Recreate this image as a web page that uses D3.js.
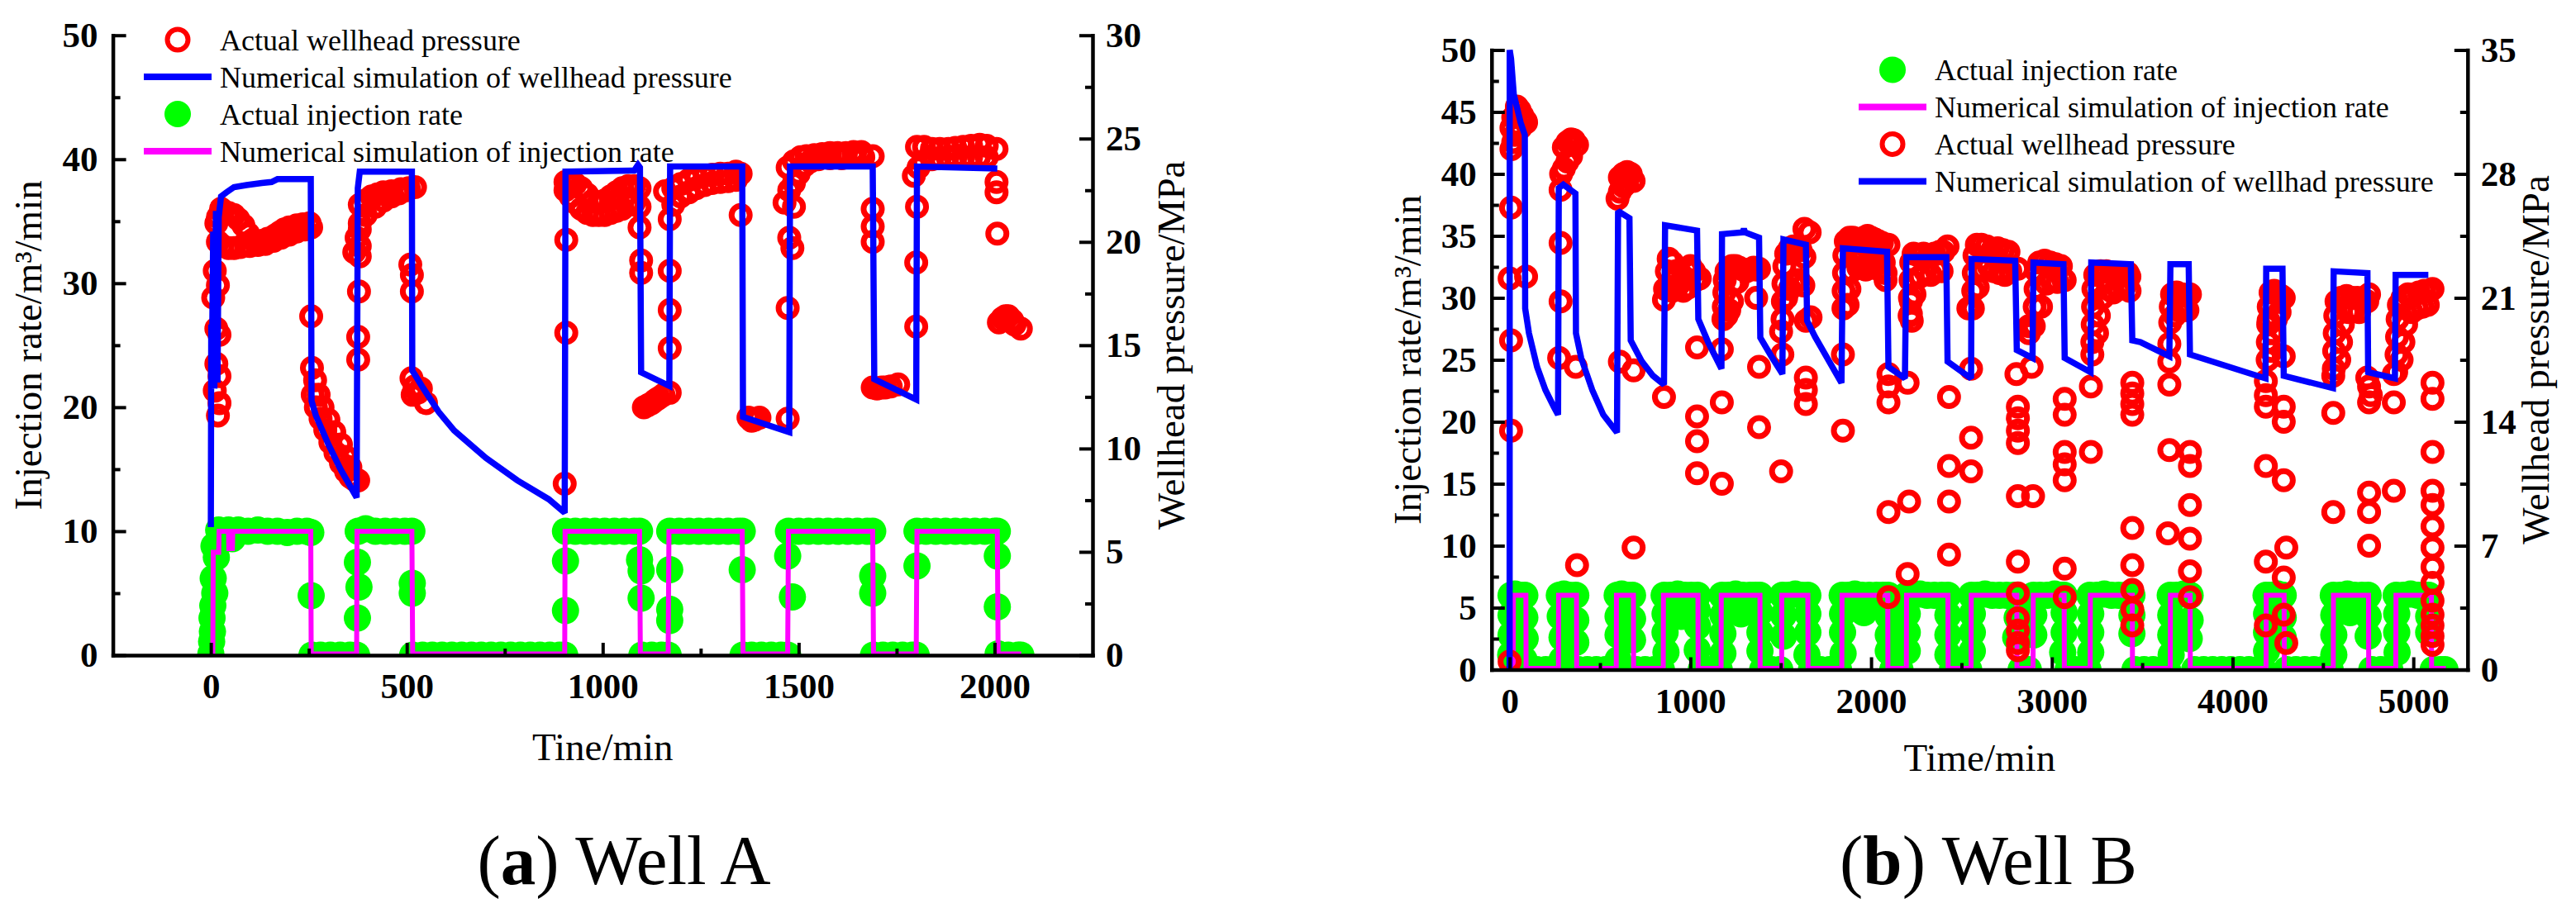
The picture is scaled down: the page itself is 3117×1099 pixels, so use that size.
<!DOCTYPE html>
<html>
<head>
<meta charset="utf-8">
<script src="https://cdn.jsdelivr.net/npm/d3@7"></script>
<style>
  body { margin: 0; background: #fff; }
  svg { display: block; }
  svg text { font-family: "Liberation Serif", "Times New Roman", "DejaVu Serif", serif; }
</style>
</head>
<body>
<div id="chart"></div>
<script>
// ---------- Well A ----------
const xTicksA = [0, 500, 1000, 1500, 2000];
const xMinorA = [250, 750, 1250, 1750];
const rateTicksA = [0, 10, 20, 30, 40, 50];
const rateMinorA = [5, 15, 25, 35, 45];
const pressTicksA = [0, 5, 10, 15, 20, 25, 30];
const pressMinorA = [2.5, 7.5, 12.5, 17.5, 22.5, 27.5];

// numerical simulation of wellhead pressure [min, MPa]
const simPressureA = [
  [0,6.2],[1,16.0],[3,14.5],[6,20.5],[9,12.9],[13,21.5],[17,13.2],[20,21.2],[26,22.2],[40,22.4],[59,22.65],[91,22.75],[130,22.85],[155,22.9],[170,23.04],[255,23.04],
  [257,12.3],[268,11.6],[300,10.2],[332,8.96],[372,7.63],
  [375,22.6],[380,23.4],[513,23.4],
  [514,13.78],[541,12.95],[581,11.78],[621,10.87],[702,9.54],[782,8.46],[862,7.55],[903,6.89],
  [905,23.4],[1080,23.45],[1090,23.73],[1095,23.6],
  [1098,13.69],[1170,13.03],
  [1172,23.65],[1356,23.65],
  [1358,11.53],[1476,10.79],
  [1478,23.65],[1689,23.65],
  [1693,13.36],[1800,12.37],
  [1802,23.65],[2007,23.55]
];

// numerical simulation of injection rate [min, m3/min]
const simRateA = [
  [0,0.1],[5,0.1],[6,8.3],[20,8.3],[21,10],[45,10],[46,8.6],[55,8.6],[56,10],[255,10],[256,0.1],[372,0.1],[373,10],[513,10],[515,0.1],
  [903,0.1],[904,10],[1094,10],[1096,0.1],[1167,0.1],[1169,10],[1356,10],[1358,0.1],[1472,0.1],[1474,10],[1689,10],[1691,0.1],
  [1800,0.1],[1802,10],[2007,10],[2009,0.1],[2068,0.1]
];

// actual injection rate [min, m3/min]
const actualRateA = [
  [0,0.1],[2,1.1],[4,1.9],[3,3.0],[5,4.0],[10,5.0],[6,6.2],[14,7.9],[8,8.8],
  [20,10.1],[30,9.4],[45,10.1],[55,9.4],[70,10.1],[95,10],[120,10.1],[145,10],[170,10],[195,9.9],[220,10],[245,10],[255,9.9],
  [256,4.8],[258,0],[280,0],[305,0],[330,0],[355,0],[372,0],
  [374,7.5],[378,5.5],[374,3.0],
  [376,10],[395,10.2],[420,10],[445,10],[470,10],[495,10],[513,10],
  [514,5.8],[514,5.0],[515,0],[540,0],[565,0],[590,0],[615,0],[640,0],[665,0],[690,0],[715,0],[740,0],[765,0],[790,0],[815,0],[840,0],[865,0],[890,0],[903,0],
  [905,7.6],[905,3.6],
  [905,10],[930,10],[955,10],[980,10],[1005,10],[1030,10],[1055,10],[1080,10],[1094,10],
  [1094,7.7],[1098,6.8],[1098,4.6],[1100,0],[1125,0],[1150,0],[1167,0],
  [1171,6.9],[1171,3.7],[1171,2.8],
  [1171,10],[1195,10],[1220,10],[1245,10],[1270,10],[1295,10],[1320,10],[1345,10],[1356,10],
  [1356,6.9],[1358,0],[1380,0],[1405,0],[1430,0],[1455,0],[1472,0],
  [1472,8.0],[1484,4.7],
  [1474,10],[1500,10],[1525,10],[1550,10],[1575,10],[1600,10],[1625,10],[1650,10],[1675,10],[1689,10],
  [1689,6.4],[1689,5.0],[1691,0],[1715,0],[1740,0],[1765,0],[1790,0],[1800,0],
  [1802,7.2],
  [1802,10],[1825,10],[1850,10],[1875,10],[1900,10],[1925,10],[1950,10],[1975,10],[2000,10],[2007,10],
  [2007,8.0],[2007,3.9],[2009,0.1],[2035,0],[2060,0],[2067,0]
];

// actual wellhead pressure [min, MPa]
const actualPressureA = [
  [18,17.9],[6,17.3],[14,15.8],[22,15.5],[14,14.1],[22,13.5],[22,12.2],[18,11.6],[14,20.9],[26,21.6],[10,18.6],[10,12.8],
  [18,21.2],[30,21.4],[45,21.4],[59,21.3],[70,21.1],[83,20.8],[95,20.4],[107,20.1],[120,20.0],[131,20.05],[145,20.15],[163,20.3],[175,20.45],[187,20.6],[200,20.7],[219,20.8],[235,20.85],[252,20.9],
  [18,20.0],[30,19.8],[45,19.7],[59,19.7],[75,19.75],[99,19.8],[120,19.85],[139,19.9],[160,20.05],[179,20.2],[200,20.35],[219,20.5],[240,20.6],[256,20.7],
  [256,16.4],
  [258,13.9],[266,13.3],[275,12.6],[285,12.0],[300,11.4],[315,10.8],[332,10.2],[345,9.6],[356,9.1],
  [260,12.6],[268,12.0],[280,11.45],[292,10.9],[305,10.3],[318,9.8],[332,9.3],[345,8.9],[356,8.63],[366,8.5],
  [376,8.46],
  [376,14.3],[376,15.4],[378,17.6],[380,19.3],[380,19.8],[380,20.6],
  [380,21.8],[395,22.0],[410,22.2],[425,22.3],[440,22.4],[461,22.45],[485,22.55],[505,22.6],
  [366,19.5],[372,20.2],[380,20.9],[395,21.3],[420,21.7],[440,22.0],[461,22.2],[480,22.35],[500,22.5],
  [521,22.65],
  [509,18.9],[513,18.4],[513,17.6],
  [512,13.4],[520,13.0],[528,12.7],[536,12.9],[515,12.6],[549,12.2],
  [907,20.1],[907,15.6],[903,8.3],
  [905,22.9],[918,22.85],[930,22.8],[945,22.6],[960,22.3],[975,22.0],[990,21.9],[1005,22.0],[1020,22.2],[1035,22.4],[1050,22.6],[1065,22.7],[1080,22.7],
  [905,22.5],[918,22.2],[930,21.9],[945,21.6],[960,21.4],[975,21.3],[990,21.3],[1005,21.3],[1020,21.4],[1035,21.5],[1050,21.6],[1065,21.8],[1080,21.9],
  [1094,22.6],[1094,21.7],[1094,20.7],[1098,19.1],[1098,18.5],
  [1105,12.0],[1115,12.1],[1125,12.2],[1135,12.35],[1143,12.45],[1155,12.6],[1171,12.7],
  [1171,21.1],[1171,18.6],[1171,16.7],[1171,14.85],
  [1159,22.45],[1180,22.6],[1199,22.8],[1220,23.0],[1239,23.1],[1260,23.2],[1280,23.25],[1300,23.3],[1320,23.3],[1340,23.4],
  [1180,21.8],[1199,22.2],[1220,22.4],[1239,22.6],[1260,22.75],[1279,22.85],[1300,22.9],[1320,22.94],[1340,23.0],
  [1352,23.3],[1352,21.3],
  [1372,11.5],[1380,11.35],[1388,11.4],[1400,11.5],[1472,11.45],
  [1472,16.8],[1484,19.7],[1476,20.2],[1488,21.7],
  [1472,23.6],[1488,23.9],[1505,24.1],[1520,24.15],[1540,24.2],[1560,24.25],[1580,24.3],[1600,24.3],[1620,24.3],[1640,24.35],[1660,24.35],
  [1464,21.9],[1476,22.5],[1488,22.85],[1500,23.3],[1515,23.7],[1530,23.9],[1550,24.0],[1580,24.05],[1610,24.05],[1640,24.1],[1665,24.1],
  [1689,24.15],
  [1689,21.6],[1689,20.75],[1689,20.0],
  [1689,12.95],[1700,12.9],[1712,12.95],[1721,12.95],[1735,13.0],[1754,13.1],
  [1802,21.7],[1800,19.0],[1800,15.9],
  [1802,24.6],[1820,24.6],[1840,24.5],[1860,24.5],[1882,24.5],[1900,24.55],[1920,24.6],[1940,24.65],[1962,24.7],[1980,24.65],
  [1794,23.2],[1806,23.6],[1818,23.9],[1840,24.0],[1860,24.05],[1880,24.1],[1900,24.1],[1920,24.1],[1940,24.1],[1960,24.1],[1980,24.1],
  [2005,24.5],
  [2005,22.9],[2005,22.4],[2007,20.4],
  [2011,16.1],[2020,16.3],[2028,16.4],[2035,16.4],[2045,16.2],[2051,16.0],[2067,15.8]
];

const legendA = ["Actual wellhead pressure", "Numerical simulation of wellhead pressure", "Actual injection rate", "Numerical simulation of injection rate"];

// ---------- Well B ----------
const xTicksB = [0, 1000, 2000, 3000, 4000, 5000];
const xMinorB = [500, 1500, 2500, 3500, 4500];
const rateTicksB = [0, 5, 10, 15, 20, 25, 30, 35, 40, 45, 50];
const rateMinorB = [2.5, 7.5, 12.5, 17.5, 22.5, 27.5, 32.5, 37.5, 42.5, 47.5];
const pressTicksB = [0, 7, 14, 21, 28, 35];
const pressMinorB = [3.5, 10.5, 17.5, 24.5, 31.5];

const simPressureB = [
  [0,0],[0.5,35],[8,34.5],[23,32.5],[61,30.9],[84,30.2],[86,20.4],[107,19.0],[152,17.1],[198,15.8],[244,14.85],[268,14.4],
  [272,27.2],[297,27.4],[364,26.9],[367,19.0],[396,17.6],[457,15.8],[518,14.4],[594,13.4],
  [600,25.9],[663,25.5],[670,18.6],[732,17.4],[793,16.6],[854,16.1],
  [860,25.1],[1037,24.8],[1044,19.8],[1098,18.5],[1172,17.0],
  [1175,24.6],[1290,24.7],[1296,24.9],[1302,24.7],[1380,24.4],[1387,18.75],[1448,17.7],[1509,16.7],
  [1515,24.3],[1639,24.0],[1646,19.7],[1690,18.8],[1836,16.2],
  [1844,23.8],[2088,23.6],[2096,17.1],[2187,16.45],
  [2195,23.3],[2416,23.3],[2423,17.4],[2553,16.45],
  [2556,23.2],[2797,23.1],[2806,18.05],[2893,17.6],
  [2898,23.0],[3064,22.9],[3071,17.6],[3214,16.8],
  [3218,23.0],[3437,22.9],[3445,18.6],[3490,18.5],[3650,17.7],
  [3656,22.9],[3757,22.9],[3764,17.8],[4182,16.45],
  [4186,22.65],[4276,22.65],[4283,16.6],[4555,15.9],
  [4559,22.5],[4746,22.4],[4750,16.8],[4898,16.45],
  [4902,22.3],[5083,22.3]
];

const simRateB = [
  [0,0.1],[20,0.1],[21,6],[90,6],[91,0.1],[270,0.1],[271,6],[370,6],[371,0.1],[590,0.1],[591,6],[685,6],[686,0.1],
  [850,0.1],[851,6],[1042,6],[1043,0.1],[1170,0.1],[1171,6],[1385,6],[1386,0.1],[1505,0.1],[1506,6],[1650,6],[1651,0.1],
  [1838,0.1],[1839,6],[2092,6],[2093,0.1],[2195,0.1],[2196,6],[2425,6],[2426,0.1],[2553,0.1],[2554,6],[2806,6],[2807,0.1],
  [2896,0.1],[2897,6],[3068,6],[3069,0.1],[3212,0.1],[3213,6],[3445,6],[3446,0.1],[3655,0.1],[3656,6],[3765,6],[3766,0.1],
  [4185,0.1],[4186,6],[4285,6],[4286,0.1],[4557,0.1],[4558,6],[4752,6],[4753,0.1],[4903,0.1],[4904,6],[5100,6],[5101,0.1],[5180,0.1]
];

const actualRateB = [
  [8,6.0],[30,6.1],[55,6.0],[84,6.0],[8,4.4],[8,2.8],[6,1.2],[84,4.2],[86,2.5],[80,0.8],[45,3.5],
  [100,0],[150,0],[200,0],[250,0],
  [275,6],[300,6.1],[330,6],[366,6],[280,4.3],[290,2.6],[366,4.0],[366,2.2],[290,0.8],
  [380,0],[430,0],[480,0],[530,0],[580,0],
  [595,6],[620,6.1],[650,6],[680,6],[600,4.3],[600,2.8],[680,4.1],[680,2.4],[600,0.8],
  [700,0],[750,0],[800,0],[840,0],
  [855,6],[890,6],[930,6.1],[970,6],[1005,6],[1040,6],[860,4.5],[860,3.0],[865,1.4],[1038,4.8],[1040,3.5],[1038,1.6],[950,4.3],
  [1060,0],[1110,0],[1160,0],
  [1175,6],[1210,6],[1250,6.1],[1290,6],[1330,6],[1360,6],[1385,6],[1180,4.4],[1180,2.9],[1180,1.3],[1385,4.6],[1385,3.0],[1385,1.5],[1280,4.5],
  [1400,0],[1450,0],[1495,0],
  [1510,6],[1545,6],[1580,6.1],[1615,6],[1650,6],[1515,4.4],[1515,2.7],[1650,4.5],[1650,3.0],[1645,1.2],
  [1670,0],[1720,0],[1770,0],[1820,0],
  [1840,6],[1875,6],[1910,6.1],[1950,6],[1990,6],[2030,6],[2065,6],[2095,6],[1842,4.5],[1842,3.0],[1845,1.3],[2095,4.3],[2095,2.8],[2095,1.5],[1960,4.6],
  [2120,0],[2160,0],
  [2195,6],[2230,6],[2270,6.1],[2310,6],[2350,6],[2390,6],[2425,6],[2200,4.5],[2200,3.0],[2200,1.5],[2425,4.4],[2425,2.8],[2425,1.2],
  [2450,0],[2500,0],[2540,0],
  [2555,6],[2590,6],[2630,6.1],[2670,6],[2710,6],[2750,6],[2790,6],[2808,6],[2560,4.5],[2560,3.0],[2560,1.5],[2808,4.2],[2800,2.6],
  [2830,0],[2870,0],
  [2898,6],[2935,6],[2975,6],[3015,6.1],[3050,6],[3068,6],[2900,4.4],[2900,2.8],[3068,4.6],[3068,3.0],[3060,1.4],
  [3090,0],[3130,0],[3170,0],[3200,0],
  [3210,6],[3250,6],[3290,6.1],[3330,6],[3370,6],[3410,6],[3443,6],[3215,4.5],[3215,3.0],[3215,1.4],[3443,4.4],[3443,2.9],
  [3460,0],[3510,0],[3560,0],[3610,0],[3640,0],
  [3655,6],[3690,6],[3730,6.1],[3765,6],[3658,4.4],[3658,2.8],[3660,1.2],[3765,4.0],[3760,2.5],
  [3790,0],[3840,0],[3890,0],[3940,0],[3990,0],[4040,0],[4090,0],[4140,0],[4170,0],
  [4185,6],[4215,6],[4250,6.1],[4280,6],[4188,4.5],[4188,3.0],[4188,1.5],[4280,4.2],[4280,2.6],
  [4300,0],[4350,0],[4400,0],[4450,0],[4500,0],[4540,0],
  [4557,6],[4595,6],[4635,6.1],[4675,6],[4715,6],[4750,6],[4560,4.4],[4560,2.8],[4560,1.2],[4750,4.3],[4750,2.7],[4650,4.6],
  [4770,0],[4820,0],[4870,0],
  [4905,6],[4945,6],[4985,6.1],[5025,6],[5060,6],[5085,6],[4908,4.5],[4908,3.0],[4910,1.4],[5085,4.3],[5085,3.0],
  [5110,0],[5150,0],[5175,0]
];

const actualPressureB = [
  [40,31.8],[55,31.6],[70,31.3],[88,31.0],[10,29.4],[20,29.8],[30,30.2],[45,30.5],[60,30.6],[10,30.6],[20,31.2],[91,30.9],
  [8,26.1],[0,22.1],[8,18.6],[8,13.5],[0,0.46],[91,22.2],
  [300,29.5],[320,29.8],[340,29.95],[355,29.9],[285,28.0],[300,28.3],[320,28.7],[340,29.0],[373,29.65],[282,27.1],
  [282,24.1],[282,20.8],[274,17.6],[366,17.1],[373,5.9],
  [610,27.8],[630,28.0],[650,28.1],[670,28.0],[597,26.6],[610,27.0],[630,27.3],[650,27.5],[686,27.6],
  [610,17.4],[686,16.9],[686,6.9],
  [860,21.5],[870,22.5],[880,23.2],[900,23.0],[920,22.5],[940,21.8],[960,22.2],[980,22.6],[1000,22.8],[1020,22.5],[1030,22.0],
  [880,21.6],[900,21.4],[920,21.5],[960,21.4],[990,21.6],[1052,22.1],[854,20.9],
  [854,15.4],[1037,18.2],[1037,14.3],[1037,12.9],[1037,11.1],
  [1183,19.8],[1185,20.5],[1188,21.3],[1190,22.0],[1200,22.5],[1215,22.7],[1200,20.0],[1215,20.3],[1230,22.8],[1250,22.8],[1270,22.7],
  [1290,22.6],[1310,22.5],[1330,22.6],[1350,22.7],[1365,22.6],[1240,21.8],[1260,21.9],[1230,20.8],[1380,22.65],[1364,21.0],
  [1174,18.1],[1174,15.1],[1174,10.5],[1380,17.1],[1380,13.7],
  [1510,19.8],[1512,20.8],[1515,21.8],[1520,22.8],[1530,23.5],[1550,23.8],[1570,23.9],[1590,23.8],[1610,23.7],
  [1530,21.0],[1550,21.5],[1575,21.8],[1600,22.0],[1625,21.7],[1631,24.9],[1631,23.3],[1639,19.7],[1502,19.1],[1509,17.8],
  [1502,11.2],[1639,16.5],[1639,15.8],[1639,15.0],[1660,24.7],[1665,19.9],
  [1847,20.4],[1848,21.4],[1850,22.4],[1852,23.4],[1860,24.2],[1880,24.4],[1900,24.4],[1920,24.3],[1940,24.3],[1960,24.4],[1980,24.5],
  [2000,24.4],[2020,24.3],[2040,24.2],[2060,24.1],[1870,20.6],[1880,21.5],[1890,22.5],[1900,23.3],[1920,23.5],[1940,23.2],[1960,23.4],
  [1990,23.6],[2020,23.5],[2050,23.3],[2070,23.0],[1930,22.7],[1970,22.6],[2010,22.7],[2045,22.6],
  [2096,24.0],[2080,22.4],[2080,22.0],[1844,17.8],
  [1844,13.5],[2096,16.7],[2096,16.0],[2096,15.1],[2202,16.2],[2096,8.9],[2210,9.5],[2202,5.4],[2096,4.1],
  [2213,20.0],[2215,21.0],[2218,22.0],[2222,23.0],[2235,23.5],[2260,23.4],[2290,23.5],[2320,23.4],[2350,23.5],[2380,23.6],[2400,23.6],
  [2240,21.2],[2270,22.2],[2300,22.5],[2330,22.3],[2360,22.6],[2390,22.5],[2423,23.9],[2220,20.8],[2220,20.1],[2225,19.7],
  [2431,15.4],[2553,17.0],[2553,13.1],[2431,11.5],[2553,11.2],[2431,9.5],[2431,6.5],[2538,20.4],
  [2563,20.4],[2565,21.4],[2568,22.4],[2572,23.4],[2585,24.0],[2610,24.0],[2640,23.9],[2670,23.7],[2700,23.8],[2730,23.7],[2760,23.6],
  [2590,21.6],[2620,22.6],[2650,22.8],[2680,22.5],[2710,22.4],[2740,22.3],[2770,22.5],[2812,22.65],[2873,19.4],[2873,19.0],
  [2804,16.7],[2888,17.1],[2812,14.85],[2812,14.2],[2812,13.5],[2812,12.8],[2812,9.8],[2896,9.8],[2812,6.1],[2812,4.3],
  [2812,2.9],[2812,2.2],[2812,1.5],[2812,1.1],
  [2900,19.4],[2905,20.5],[2910,21.5],[2915,22.5],[2930,23.0],[2960,23.1],[2990,23.0],[3020,22.9],[3050,22.8],
  [2940,20.5],[2970,21.8],[3000,22.0],[3030,21.9],[3060,22.1],[3071,22.0],
  [3071,15.3],[3071,14.4],[3071,12.3],[3071,11.6],[3071,10.7],[3216,12.3],[3216,16.0],[3071,5.7],[3071,4.1],
  [3224,18.5],[3226,19.5],[3228,20.5],[3230,21.5],[3240,22.3],[3270,22.5],[3300,22.5],[3330,22.4],[3360,22.4],[3390,22.3],[3420,22.4],
  [3250,19.0],[3260,20.0],[3280,21.0],[3310,21.5],[3340,21.3],[3370,21.5],[3400,21.6],[3430,21.4],[3429,22.2],[3224,17.8],
  [3445,16.2],[3445,15.6],[3445,15.0],[3445,14.4],[3445,8.0],[3445,5.9],[3445,4.5],[3445,3.4],[3445,2.5],
  [3655,19.6],[3658,20.5],[3665,21.2],[3690,21.3],[3720,21.2],[3745,21.1],[3680,20.0],[3700,20.3],[3730,20.5],[3750,20.3],
  [3764,21.2],[3650,18.4],[3650,17.4],
  [3650,16.1],[3650,12.4],[3764,12.3],[3764,11.5],[3764,9.3],[3642,7.7],[3764,7.4],[3764,5.55],[3764,4.1],
  [4194,17.5],[4195,18.5],[4197,19.5],[4200,20.5],[4210,21.3],[4230,21.4],[4250,21.2],[4270,21.1],[4220,19.0],[4240,19.8],[4260,20.2],[4215,18.0],
  [4283,21.0],[4283,17.7],[4199,19.7],
  [4184,16.3],[4184,15.5],[4184,14.85],[4283,14.85],[4283,14.0],[4184,11.5],[4283,10.7],[4297,6.9],[4184,6.1],[4283,5.2],[4283,3.1],[4184,2.5],[4297,1.5],
  [4560,17.0],[4562,18.0],[4565,19.0],[4568,20.0],[4575,20.8],[4600,21.0],[4630,21.1],[4660,21.0],[4690,21.0],[4720,20.9],[4745,20.8],
  [4590,17.5],[4600,18.5],[4610,19.5],[4640,20.2],[4670,20.3],[4700,20.2],[4755,21.2],[4557,16.6],
  [4745,16.5],[4755,16.0],[4765,15.5],[4755,15.1],
  [4557,14.5],[4755,10.0],[4755,8.9],[4892,10.1],[4755,7.0],[4557,8.9],
  [4905,16.8],[4907,17.8],[4910,18.8],[4913,19.8],[4920,20.6],[4940,21.0],[4970,21.2],[5000,21.2],[5030,21.3],[5060,21.4],[5090,21.4],
  [4935,17.5],[4945,18.5],[4960,19.5],[4990,20.2],[5020,20.4],[5050,20.5],[5080,20.6],[5106,21.5],[4892,15.1],[4892,16.7],
  [5106,16.2],[5106,15.3],[5106,12.3],[5106,10.1],[5106,9.3],[5106,8.1],[5106,6.9],[5106,5.8],[5106,4.9],[5106,3.9],[5106,3.1],
  [5106,2.5],[5106,1.9],[5106,1.4]
];

const legendB = ["Actual injection rate", "Numerical simulation of injection rate", "Actual wellhead pressure", "Numerical simulation of wellhad pressure"];

// ---------- drawing ----------
const RED = "#ff0000", BLUE = "#0000ff", GREEN = "#00ff00", MAGENTA = "#ff00ff";

const svg = d3.select("#chart").append("svg")
    .attr("width", 3117)
    .attr("height", 1099)
    .style("background", "#fff");

const panels = [
  {
    id: "a", xDomain: [-250, 2250], xRange: [136.6, 1322], yRange: [793, 42.7], pressMax: 30,
    xTicks: xTicksA, xMinor: xMinorA, rateTicks: rateTicksA, rateMinor: rateMinorA, pressTicks: pressTicksA, pressMinor: pressMinorA,
    simPressure: simPressureA, simRate: simRateA, actualRate: actualRateA, actualPressure: actualPressureA,
    legend: legendA, legendKinds: ["circle", "blue", "dot", "magenta"], legendX: 215, legendY: 48, legendStep: 45,
    xTitle: "Tine/min", xTitleY: 920, leftTitleX: 50, rightTitleX: 1433,
    captionLetter: "a", captionText: " Well A", captionX: 755
  },
  {
    id: "b", xDomain: [-100, 5300], xRange: [1804.8, 2985.8], yRange: [810.5, 60.5], pressMax: 35,
    xTicks: xTicksB, xMinor: xMinorB, rateTicks: rateTicksB, rateMinor: rateMinorB, pressTicks: pressTicksB, pressMinor: pressMinorB,
    simPressure: simPressureB, simRate: simRateB, actualRate: actualRateB, actualPressure: actualPressureB,
    legend: legendB, legendKinds: ["dot", "magenta", "circle", "blue"], legendX: 2290, legendY: 84.4, legendStep: 45,
    xTitle: "Time/min", xTitleY: 933, leftTitleX: 1719, rightTitleX: 3084,
    captionLetter: "b", captionText: " Well B", captionX: 2406
  }
];

panels.forEach(drawPanel);

function drawPanel(p) {
    let x = d3.scaleLinear().domain(p.xDomain).range(p.xRange);
    let yRate = d3.scaleLinear().domain([0, 50]).range(p.yRange);
    let yPress = d3.scaleLinear().domain([0, p.pressMax]).range(p.yRange);

    let g = svg.append("g").attr("id", "panel-" + p.id);

    svg.append("clipPath").attr("id", "clip-" + p.id)
        .append("rect")
        .attr("x", p.xRange[0])
        .attr("y", p.yRange[1] - 20)
        .attr("width", p.xRange[1] - p.xRange[0])
        .attr("height", p.yRange[0] - p.yRange[1] + 20);

    let plot = g.append("g").attr("clip-path", `url(#clip-${p.id})`);

    // actual injection rate
    plot.append("g").selectAll("circle")
        .data(p.actualRate)
        .join("circle")
        .attr("cx", d => x(d[0]))
        .attr("cy", d => yRate(d[1]))
        .attr("r", 16.5)
        .attr("fill", GREEN);

    // simulated injection rate
    plot.append("path")
        .datum(p.simRate)
        .attr("d", d3.line().x(d => x(d[0])).y(d => yRate(d[1])))
        .attr("fill", "none")
        .attr("stroke", MAGENTA)
        .attr("stroke-width", 6)
        .attr("stroke-linejoin", "miter")
        .attr("stroke-miterlimit", 2);

    // actual wellhead pressure
    plot.append("g").selectAll("circle")
        .data(p.actualPressure)
        .join("circle")
        .attr("cx", d => x(d[0]))
        .attr("cy", d => yPress(d[1]))
        .attr("r", 11)
        .attr("fill", "none")
        .attr("stroke", RED)
        .attr("stroke-width", 7);

    // simulated wellhead pressure
    plot.append("path")
        .datum(p.simPressure)
        .attr("d", d3.line().x(d => x(d[0])).y(d => yPress(d[1])))
        .attr("fill", "none")
        .attr("stroke", BLUE)
        .attr("stroke-width", 7.5)
        .attr("stroke-linejoin", "miter")
        .attr("stroke-miterlimit", 2);

    // axes
    let styleAxis = function (sel) {
        sel.attr("font-family", null).attr("font-size", 43).attr("font-weight", "bold");
        sel.select(".domain").attr("stroke-width", 4.5).attr("stroke-linecap", "square");
        sel.selectAll(".tick line").attr("stroke-width", 4);
        sel.selectAll("text").attr("fill", "#000");
    };
    let minorStyle = function (sel) {
        sel.select(".domain").remove();
        sel.selectAll("line").attr("stroke-width", 4);
    };

    let left = g.append("g").attr("transform", `translate(${p.xRange[0]},0)`)
        .call(d3.axisLeft(yRate).tickValues(p.rateTicks).tickSize(-16).tickSizeOuter(0).tickPadding(18).tickFormat(d3.format("d")));
    styleAxis(left);
    g.append("g").attr("transform", `translate(${p.xRange[0]},0)`)
        .call(d3.axisLeft(yRate).tickValues(p.rateMinor).tickSize(-9).tickSizeOuter(0).tickFormat(""))
        .call(minorStyle);

    let right = g.append("g").attr("transform", `translate(${p.xRange[1]},0)`)
        .call(d3.axisRight(yPress).tickValues(p.pressTicks).tickSize(-16).tickSizeOuter(0).tickPadding(16).tickFormat(d3.format("d")));
    styleAxis(right);
    g.append("g").attr("transform", `translate(${p.xRange[1]},0)`)
        .call(d3.axisRight(yPress).tickValues(p.pressMinor).tickSize(-9).tickSizeOuter(0).tickFormat(""))
        .call(minorStyle);

    let bottom = g.append("g").attr("transform", `translate(0,${p.yRange[0]})`)
        .call(d3.axisBottom(x).tickValues(p.xTicks).tickSize(-15).tickSizeOuter(0).tickPadding(21.5).tickFormat(d3.format("d")));
    styleAxis(bottom);
    g.append("g").attr("transform", `translate(0,${p.yRange[0]})`)
        .call(d3.axisBottom(x).tickValues(p.xMinor).tickSize(-8).tickSizeOuter(0).tickFormat(""))
        .call(minorStyle);

    // axis titles
    let midY = (p.yRange[0] + p.yRange[1]) / 2;
    g.append("text")
        .attr("transform", `translate(${p.leftTitleX},${midY}) rotate(-90)`)
        .attr("text-anchor", "middle")
        .attr("font-size", 47)
        .text("Injection rate/m\u00b3/min");

    g.append("text")
        .attr("transform", `translate(${p.rightTitleX},${midY}) rotate(-90)`)
        .attr("text-anchor", "middle")
        .attr("font-size", 47)
        .text("Wellhead pressure/MPa");

    g.append("text")
        .attr("x", (p.xRange[0] + p.xRange[1]) / 2)
        .attr("y", p.xTitleY)
        .attr("text-anchor", "middle")
        .attr("font-size", 47)
        .text(p.xTitle);

    // legend
    let leg = g.append("g");
    p.legend.forEach(function (label, i) {
        let cy = p.legendY + i * p.legendStep;
        let kind = p.legendKinds[i];
        if (kind === "circle") {
            leg.append("circle").attr("cx", p.legendX).attr("cy", cy).attr("r", 12.5)
                .attr("fill", "none").attr("stroke", RED).attr("stroke-width", 6);
        } else if (kind === "dot") {
            leg.append("circle").attr("cx", p.legendX).attr("cy", cy).attr("r", 16)
                .attr("fill", GREEN);
        } else {
            leg.append("line").attr("x1", p.legendX - 41).attr("x2", p.legendX + 41)
                .attr("y1", cy).attr("y2", cy)
                .attr("stroke", kind === "blue" ? BLUE : MAGENTA).attr("stroke-width", 8);
        }
        leg.append("text")
            .attr("x", p.legendX + 51)
            .attr("y", cy + 12.5)
            .attr("font-size", 36)
            .text(label);
    });

    // caption
    let cap = svg.append("text")
        .attr("x", p.captionX)
        .attr("y", 1070)
        .attr("text-anchor", "middle")
        .attr("font-size", 85);
    cap.append("tspan").text("(");
    cap.append("tspan").attr("font-weight", "bold").text(p.captionLetter);
    cap.append("tspan").text(")" + p.captionText);
}
</script>
</body>
</html>
